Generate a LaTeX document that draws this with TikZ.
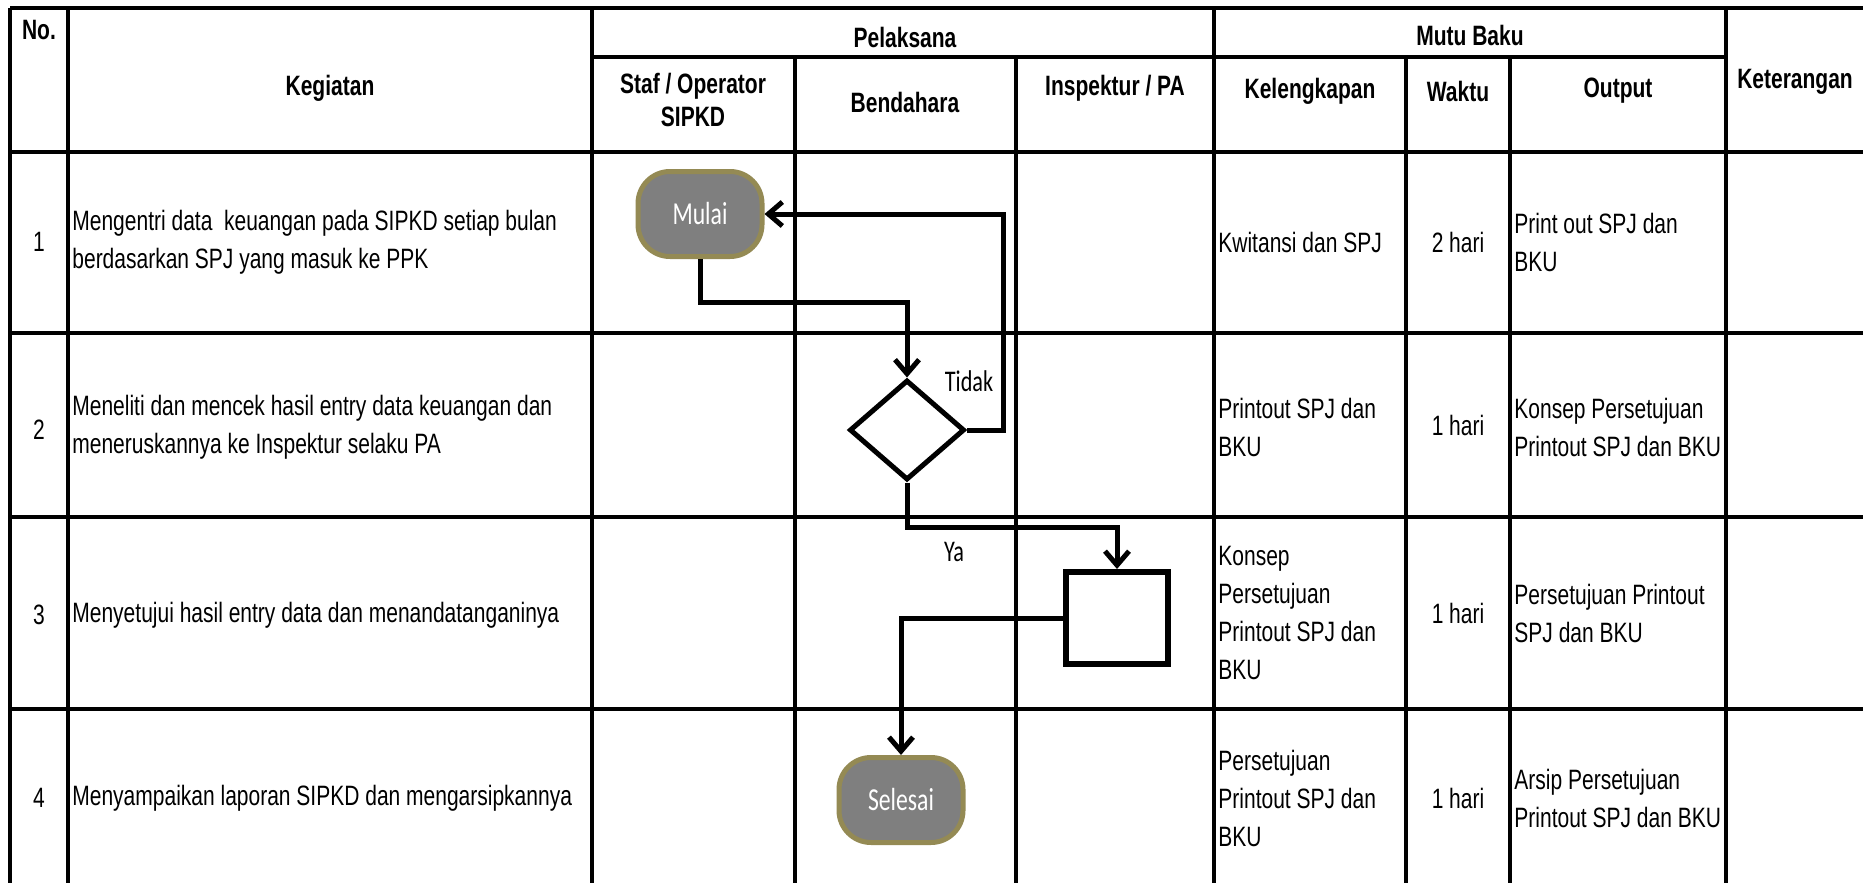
\documentclass[tikz,border=0pt]{standalone}
\usepackage{fontspec}
\setmainfont{Liberation Sans}[FakeStretch=0.75]
\newfontfamily\califont{Carlito}[FakeStretch=0.74]
\usetikzlibrary{shapes.geometric,arrows.meta}
\definecolor{olivebd}{HTML}{948A54}
\definecolor{termfill}{HTML}{7F7F7F}
\begin{document}
\begin{tikzpicture}[x=0.5pt,y=-0.5pt,
  grid/.style={line width=1.8pt},
  txt/.style={inner sep=0pt, font=\fontsize{14pt}{19pt}\selectfont},
  hdr/.style={inner sep=0pt, font=\fontsize{14pt}{16.5pt}\selectfont\bfseries, align=center},
  body/.style={txt, anchor=west, align=left},
  ctr/.style={txt, align=center},
  term/.style={rectangle, rounded corners=16pt, fill=termfill, draw=olivebd, line width=2.5pt,
    text=white, font=\califont\fontsize{16pt}{19pt}\selectfont,
    minimum width=62pt, minimum height=42.5pt, inner sep=0pt},
  decbox/.style={diamond, draw, line width=2.5pt, minimum width=57.5pt, minimum height=50pt, inner sep=0pt},
  procbox/.style={rectangle, draw, line width=3pt, minimum width=51pt, minimum height=46pt, inner sep=0pt},
  conn/.style={line width=2.5pt, -{Straight Barb[length=7pt,width=12pt]}},
  lbl/.style={inner sep=0pt, font=\califont\fontsize{15pt}{18pt}\selectfont}
]
\useasboundingbox (0,0) rectangle (1863,883);
\fill[white] (0,0) rectangle (1863,883);

% table grid
\draw[grid] (10,8) -- (1863,8);
\draw[grid] (592,57) -- (1726,57);
\foreach \yy in {152,333,517,709} { \draw[grid] (10,\yy) -- (1863,\yy); }
\foreach \xx in {10,68,592,1214,1726} { \draw[grid] (\xx,8) -- (\xx,883); }
\foreach \xx in {795,1016,1406,1510} { \draw[grid] (\xx,57) -- (\xx,883); }

% header texts
\node[hdr] (hno) at (39,30) {No.};
\node[hdr] (hkeg) at (330,88) {Kegiatan};
\node[hdr] (hpel) at (905,37) {Pelaksana};
\node[hdr] (hmutu) at (1470,35) {Mutu Baku};
\node[hdr] (hstaf) at (693,100) {Staf / Operator\\SIPKD};
\node[hdr] (hbend) at (905,102) {Bendahara};
\node[hdr] (hinsp) at (1115,88) {Inspektur / PA};
\node[hdr] (hkel) at (1310,91) {Kelengkapan};
\node[hdr] (hwak) at (1458,91) {Waktu};
\node[hdr] (hout) at (1618,91) {Output};
\node[hdr] (hket) at (1795,82) {Keterangan};

% row 1
\node[ctr] (n1) at (39,242) {1};
\node[body] (k1) at (72,242) {Mengentri data \ keuangan pada SIPKD setiap bulan\\berdasarkan SPJ yang masuk ke PPK};
\node[body] (l1) at (1218,242) {Kwitansi dan SPJ};
\node[ctr] (w1) at (1458,242) {2 hari};
\node[body] (o1) at (1514,242) {Print out SPJ dan\\BKU};

% row 2
\node[ctr] (n2) at (39,430) {2};
\node[body] (k2) at (72,427) {Meneliti dan mencek hasil entry data keuangan dan\\meneruskannya ke Inspektur selaku PA};
\node[body] (l2) at (1218,427) {Printout SPJ dan\\BKU};
\node[ctr] (w2) at (1458,425) {1 hari};
\node[body] (o2) at (1514,427) {Konsep Persetujuan\\Printout SPJ dan BKU};

% row 3
\node[ctr] (n3) at (39,615) {3};
\node[body] (k3) at (72,615) {Menyetujui hasil entry data dan menandatanganinya};
\node[body] (l3) at (1218,613) {Konsep\\Persetujuan\\Printout SPJ dan\\BKU};
\node[ctr] (w3) at (1458,613) {1 hari};
\node[body] (o3) at (1514,613) {Persetujuan Printout\\SPJ dan BKU};

% row 4
\node[ctr] (n4) at (39,798) {4};
\node[body] (k4) at (72,798) {Menyampaikan laporan SIPKD dan mengarsipkannya};
\node[body] (l4) at (1218,798) {Persetujuan\\Printout SPJ dan\\BKU};
\node[ctr] (w4) at (1458,798) {1 hari};
\node[body] (o4) at (1514,798) {Arsip Persetujuan\\Printout SPJ dan BKU};

% flowchart
\node[term] (mulai) at (700,214) {Mulai};
\node[decbox] (dec) at (907,430) {};
\node[procbox] (proc) at (1117,618) {};
\node[term] (selesai) at (901,800) {Selesai};

\coordinate (j1) at (0,302);
\coordinate (j2) at (1003,300);
\coordinate (j3) at (1000,527);

\draw[conn] (mulai.south) -- (mulai.south |- j1) -| (dec.north);
\draw[conn] (dec.east) -| (j2) |- (mulai.east);
\draw[conn] (dec.south) |- (j3) -| (proc.north);
\draw[conn] (proc.west) -| (selesai.north);

\node[lbl] (tidak) at (969,381) {Tidak};
\node[lbl] (ya) at (954,552) {Ya};
\end{tikzpicture}
\end{document}
